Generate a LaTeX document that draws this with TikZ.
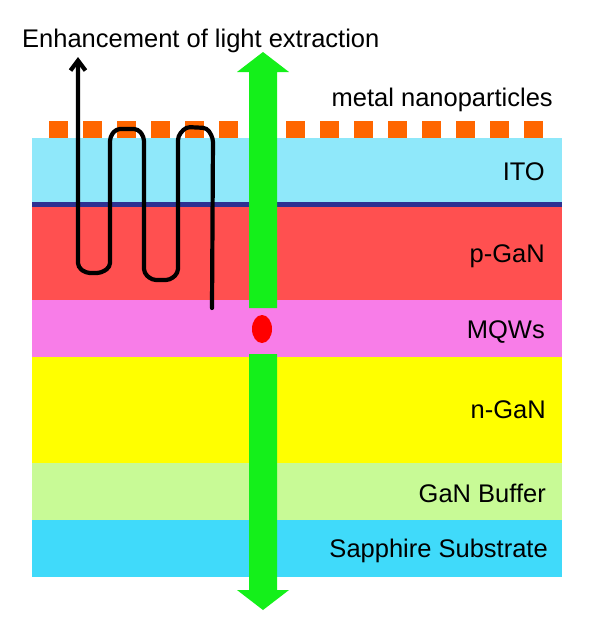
\documentclass[tikz,border=0pt]{standalone}
\usepackage{fontspec}
\setmainfont{Liberation Sans}
\usetikzlibrary{arrows.meta}
\definecolor{cito}{RGB}{143,232,250}
\definecolor{cnavy}{RGB}{46,49,146}
\definecolor{cpgan}{RGB}{255,80,80}
\definecolor{cmqw}{RGB}{248,125,232}
\definecolor{cngan}{RGB}{255,255,0}
\definecolor{cbuf}{RGB}{200,250,150}
\definecolor{csap}{RGB}{64,218,250}
\definecolor{cnp}{RGB}{255,102,0}
\definecolor{cgreen}{RGB}{20,240,26}
\begin{document}
\begin{tikzpicture}[x=1pt,y=-1pt,
  lbl/.style={anchor=base east, inner sep=0pt, font=\fontsize{25.5}{30}\selectfont},
  bigarrow/.style={fill=cgreen, draw=none},
  wire/.style={line width=4.2pt, line join=round, line cap=round, rounded corners=4pt}]
\useasboundingbox (0,0) rectangle (600,635);
\fill[white] (0,0) rectangle (600,635);
% layers
\fill[cito]  (32,138) rectangle (562,202);
\fill[cnavy] (32,202) rectangle (562,207);
\fill[cpgan] (32,207) rectangle (562,300);
\fill[cmqw]  (32,300) rectangle (562,357);
\fill[cngan] (32,357) rectangle (562,463);
\fill[cbuf]  (32,463) rectangle (562,520);
\fill[csap]  (32,520) rectangle (562,577);
% nanoparticles
\foreach \i in {0,...,14}
  \fill[cnp] ({49+33.9*\i},121) rectangle ({68+33.9*\i},138);
% green light arrows
\fill[bigarrow] (249,308) -- (249,72) -- (237,72) -- (263,52) -- (289,72) -- (277,72) -- (277,308) -- cycle;
\fill[bigarrow] (249,354) -- (249,590) -- (237,590) -- (263,610) -- (289,590) -- (277,590) -- (277,354) -- cycle;
% emitter
\fill[red] (262,329) ellipse [x radius=10pt, y radius=14pt];
% serpentine light path
\coordinate (ps) at (212,308);
\coordinate (pe) at (78,57);
\draw[wire, -{Straight Barb[length=10pt,width=15pt]}] (ps) -- (213,138) -- (207,128) -- (186,127) -- (178,136)
  -- (178,273) -- (170,280) -- (152,280) -- (144,273)
  -- (144,137) -- (138,129) -- (116,129) -- (110,137)
  -- (110,267) -- (101,273) -- (86,273) -- (78,267) -- (pe);
% labels
\node[lbl] (tito) at (545,180) {ITO};
\node[lbl] (tpgan) at (545,262) {p-GaN};
\node[lbl] (tmqw) at (545,338) {MQWs};
\node[lbl] (tngan) at (546,418) {n-GaN};
\node[lbl] (tbuf) at (546,502) {GaN Buffer};
\node[lbl] (tsap) at (548,557) {Sapphire Substrate};
\node[lbl] (tnp) at (553,106) {metal nanoparticles};
\node[lbl, anchor=base west] (tenh) at (22,47) {Enhancement of light extraction};
\end{tikzpicture}
\end{document}
